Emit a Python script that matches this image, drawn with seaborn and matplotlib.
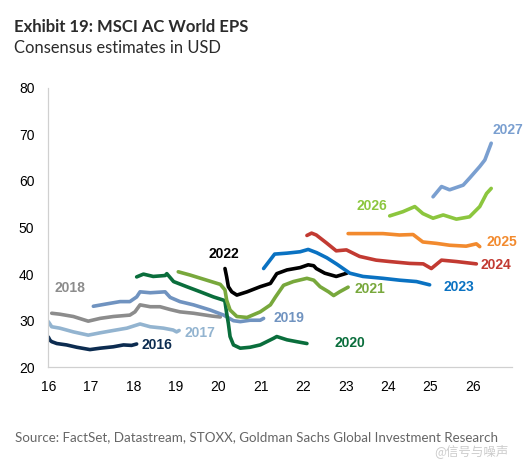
import matplotlib
matplotlib.use('Agg')
import matplotlib.pyplot as plt
import pandas as pd
import seaborn as sns

# consensus EPS estimate paths, x = year (fractional, 16 = 2016)
s2016_x = [16.0, 16.04, 16.08, 16.2, 16.43, 16.67, 16.98, 17.22, 17.53, 17.77, 17.96, 18.08]
s2016_y = [26.5, 25.8, 25.5, 25.1, 24.8, 24.3, 23.8, 24.1, 24.4, 24.8, 24.7, 25.0]

s2017_x = [16.0, 16.08, 16.27, 16.59, 16.94, 17.22, 17.53, 17.85, 18.16, 18.4, 18.71, 18.94, 19.02, 19.08]
s2017_y = [29.8, 28.7, 28.4, 27.6, 26.9, 27.4, 27.9, 28.4, 29.3, 28.7, 28.4, 28.0, 27.6, 27.9]

s2018_x = [16.08, 16.27, 16.59, 16.94, 17.22, 17.53, 17.92, 18.04, 18.16, 18.4, 18.63, 18.87, 19.1, 19.42, 19.85, 20.05]
s2018_y = [31.6, 31.4, 30.9, 29.9, 30.5, 30.9, 31.2, 31.9, 33.4, 33.0, 33.0, 32.4, 31.9, 31.6, 31.0, 30.8]

s2019_x = [17.06, 17.37, 17.69, 17.92, 18.08, 18.16, 18.4, 18.75, 18.87, 19.1, 19.42, 19.81, 20.13, 20.36,
           20.52, 20.75, 20.99, 21.07]
s2019_y = [33.1, 33.6, 34.1, 34.1, 35.1, 36.2, 36.0, 36.2, 35.0, 34.1, 33.4, 32.3, 31.2, 30.0,
           29.8, 30.1, 30.1, 30.5]

s2020_x = [18.08, 18.24, 18.47, 18.75, 18.79, 18.95, 19.26, 19.58, 19.89, 20.13, 20.16, 20.2, 20.24, 20.28,
           20.36, 20.52, 20.75, 20.99, 21.3, 21.38, 21.62, 21.85, 22.09]
s2020_y = [39.4, 40.0, 39.5, 39.7, 40.1, 38.4, 37.3, 36.2, 35.1, 34.4, 34.1, 31.6, 29.4, 26.6,
           24.8, 24.1, 24.3, 24.8, 26.2, 26.6, 25.9, 25.5, 25.1]

s2021_x = [19.06, 19.34, 19.73, 20.05, 20.16, 20.2, 20.28, 20.44, 20.68, 20.99, 21.23, 21.35, 21.54, 21.77,
           22.09, 22.25, 22.4, 22.6, 22.72, 22.86, 23.06]
s2021_y = [40.5, 39.8, 38.7, 37.8, 36.6, 34.4, 32.3, 30.9, 30.7, 31.9, 33.4, 35.1, 37.6, 38.4,
           39.1, 38.7, 37.3, 36.2, 35.4, 36.2, 37.2]

s2022_x = [20.16, 20.2, 20.24, 20.32, 20.44, 20.68, 20.99, 21.23, 21.38, 21.62, 21.93, 22.12, 22.25, 22.31,
           22.51, 22.78, 23.03]
s2022_y = [41.2, 39.4, 37.3, 36.2, 35.5, 36.2, 37.3, 38.0, 40.1, 40.9, 41.4, 42.0, 41.8, 41.2,
           40.2, 39.5, 40.2]

s2023_x = [21.07, 21.33, 21.62, 21.93, 22.12, 22.32, 22.56, 22.8, 23.1, 23.41, 23.88, 24.27, 24.67, 24.98]
s2023_y = [41.2, 44.3, 44.5, 44.8, 45.3, 44.6, 43.5, 42.1, 40.2, 39.5, 39.1, 38.7, 38.4, 37.7]

s2024_x = [22.09, 22.2, 22.31, 22.55, 22.78, 23.02, 23.33, 23.72, 24.04, 24.51, 24.83, 25.02, 25.26, 25.61, 26.08]
s2024_y = [48.3, 48.8, 48.4, 46.7, 45.0, 45.2, 43.8, 43.0, 42.7, 42.3, 42.2, 41.2, 43.0, 42.7, 42.2]

s2025_x = [23.06, 23.41, 23.88, 24.27, 24.59, 24.82, 25.14, 25.45, 25.84, 26.08, 26.16]
s2025_y = [48.7, 48.7, 48.7, 48.4, 48.5, 46.9, 46.6, 46.2, 46.0, 46.5, 45.9]

s2026_x = [24.04, 24.35, 24.63, 24.82, 25.06, 25.3, 25.61, 25.92, 26.16, 26.32, 26.43]
s2026_y = [52.5, 53.4, 54.5, 53.0, 52.0, 52.7, 51.8, 52.3, 54.5, 57.3, 58.4]

s2027_x = [25.06, 25.26, 25.45, 25.77, 25.92, 26.16, 26.28, 26.43]
s2027_y = [56.6, 58.8, 58.1, 59.1, 60.6, 63.1, 64.5, 68.1]

years = ['2016', '2017', '2018', '2019', '2020', '2021', '2022', '2023', '2024', '2025', '2026', '2027']
xs = [s2016_x, s2017_x, s2018_x, s2019_x, s2020_x, s2021_x, s2022_x, s2023_x, s2024_x, s2025_x, s2026_x, s2027_x]
ys = [s2016_y, s2017_y, s2018_y, s2019_y, s2020_y, s2021_y, s2022_y, s2023_y, s2024_y, s2025_y, s2026_y, s2027_y]

colors = {'2016': '#0c2c50', '2017': '#93b4d0', '2018': '#8c8c8c', '2019': '#7093c0',
          '2020': '#0a6e3c', '2021': '#78a83c', '2022': '#000000', '2023': '#0a72c2',
          '2024': '#c23a32', '2025': '#f28a2e', '2026': '#8cc63e', '2027': '#7a9fd0'}

# label positions (data coords, left edge / vertical centre)
label_x = [18.2, 19.2, 16.15, 21.3, 22.75, 23.2, 19.77, 25.3, 26.18, 26.32, 23.25, 26.47]
label_y = [24.8, 27.3, 37.0, 30.5, 25.2, 36.7, 44.3, 37.3, 42.0, 46.8, 54.6, 70.9]

frames = []
for yr, x, y in zip(years, xs, ys):
    frames.append(pd.DataFrame({'x': x, 'y': y, 'year': yr}))
df = pd.concat(frames, ignore_index=True)

sns.set_style('white')
plt.rcParams['font.family'] = ['Liberation Sans', 'DejaVu Sans']

fig = plt.figure(figsize=(5.23, 4.62), dpi=100)
ax = fig.add_axes([0.0924, 0.205, 0.8866, 0.605])

sns.lineplot(data=df, x='x', y='y', hue='year', palette=colors, sort=False,
             estimator=None, legend=False, linewidth=2.6, ax=ax)
for line in ax.lines:
    line.set_solid_joinstyle('round')
    line.set_solid_capstyle('round')

for yr, lx, ly in zip(years, label_x, label_y):
    ax.text(lx, ly, yr, color=colors[yr], fontsize=10, fontweight='bold',
            ha='left', va='center')

ax.set_xlim(16, 26.92)
ax.set_ylim(20, 80)
ax.set_xticks(range(16, 27))
ax.set_yticks(range(20, 81, 10))
ax.set_xlabel('')
ax.set_ylabel('')
for side in ['top', 'right']:
    ax.spines[side].set_visible(False)
for side in ['left', 'bottom']:
    ax.spines[side].set_color('#d0d0d0')
    ax.spines[side].set_linewidth(0.9)
ax.tick_params(axis='both', width=0.8, color='#d0d0d0', labelsize=10, labelcolor='black')
ax.tick_params(axis='x', length=2.5, pad=6.5)
ax.tick_params(axis='y', length=3.5, pad=6.5)

fig.text(0.027, 0.931, 'Exhibit 19: MSCI AC World EPS', fontsize=12, fontweight='bold',
         family='Lato', color='#2b2b2b')
fig.text(0.027, 0.885, 'Consensus estimates in USD', fontsize=11.9, family='Lato', color='#2b2b2b')
fig.text(0.029, 0.046, 'Source: FactSet, Datastream, STOXX, Goldman Sachs Global Investment Research',
         fontsize=9.65, family='Lato', color='#666666')
fig.text(0.83, 0.016, '@信号与噪声', fontsize=9, family=['Noto Sans CJK SC', 'DejaVu Sans'],
         color='#cccccc')

fig.savefig('out.png', dpi=100)
